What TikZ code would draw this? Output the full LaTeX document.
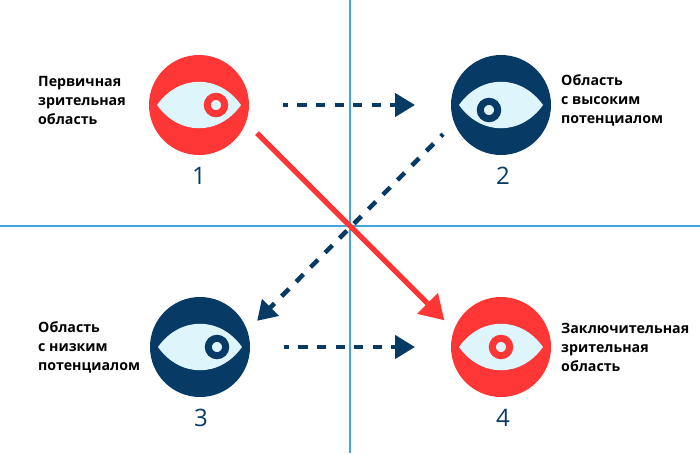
\documentclass[tikz,border=0pt]{standalone}
\usepackage{fontspec}
\setmainfont{Open Sans}
\usetikzlibrary{arrows.meta,calc,positioning}
\definecolor{eyered}{HTML}{FF3636}
\definecolor{eyenavy}{HTML}{083A66}
\definecolor{eyelight}{HTML}{DFF5FC}
\definecolor{axisblue}{HTML}{46A5DC}
\tikzset{
	disc/.style={circle, minimum size=100pt, inner sep=0pt, outer sep=0pt},
	areatext/.style={anchor=west, align=left, inner sep=0pt, text=black, font=\fontsize{14.2}{19}\selectfont\bfseries},
	numtext/.style={inner sep=0pt, text=eyenavy, font=\fontsize{24}{24}\selectfont},
	dashline/.style={line width=4.5pt, eyenavy, dash pattern=on 9.3pt off 9.3pt},
}
\begin{document}
\begin{tikzpicture}[x=1pt, y=-1pt]
		\useasboundingbox (0,0) rectangle (700,453);
		% axes
		\draw [line width=2.2pt, axisblue] (350,0) -- (350,453);
		\draw [line width=2.2pt, axisblue] (0,226) -- (700,226);
		% eyes
		\foreach \name/\x/\y/\col/\dx/\dy in {view1/199/105/eyered/17/0, view2/501/105/eyenavy/-12/5, view3/200/347/eyenavy/17/0, view4/501/347/eyered/0/0} {
			\node [disc, fill=\col] (\name) at (\x,\y) {};
			\fill [eyelight] ($(\name)+(-42,0)$) .. controls ($(\name)+(-20,-31)$) and ($(\name)+(20,-31)$) .. ($(\name)+(42,0)$) .. controls ($(\name)+(20,31)$) and ($(\name)+(-20,31)$) .. cycle;
			\draw [line width=7pt, \col] ($(\name)+(\dx,\dy)$) circle (8.7);
		}
		% labels
		\node [areatext] (text1) at (38,100) {Первичная\\зрительная\\область};
		\node [areatext] (text2) at (561,100) {Область\\с высоким\\потенциалом};
		\node [areatext] (text3) at (38,347) {Область\\с низким\\потенциалом};
		\node [areatext] (text4) at (561,347) {Заключительная\\зрительная\\область};
		\node [numtext] (num1) at (199,176) {1};
		\node [numtext] (num2) at (503,176) {2};
		\node [numtext] (num3) at (201,418) {3};
		\node [numtext] (num4) at (503,418) {4};
		% arrows
		\draw [dashline, dash phase=4.3pt, shorten <=34pt, shorten >=36pt, -{Triangle[length=20pt,width=23pt]}] (view1.east) -- (view2.west);
		\draw [dashline, dash phase=4.3pt, shorten <=34pt, shorten >=36pt, -{Triangle[length=20pt,width=23pt]}] (view3.east) -- (view4.west);
		\draw [dashline, dash pattern=on 10.3pt off 10.2pt, dash phase=7.2pt, shorten <=16pt, shorten >=14pt, -{Triangle[length=19pt,width=23pt]}] (view2.201.7) -- (view3.19);
		\draw [line width=5.3pt, eyered, shorten <=15.5pt, shorten >=13.5pt, -{Triangle[length=24pt,width=28pt]}] (view1.-20) -- (view4.160);
\end{tikzpicture}
\end{document}
